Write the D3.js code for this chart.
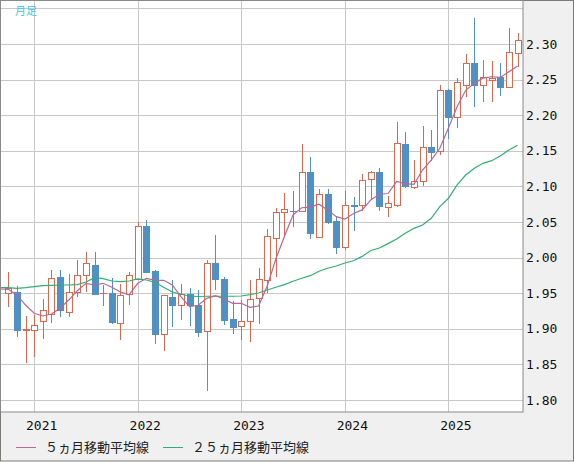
<!DOCTYPE html>
<html lang="ja">
<head>
<meta charset="utf-8">
<script src="https://d3js.org/d3.v7.min.js"></script>
<style>
  body { margin: 0; background: #fff; }
  .grid { stroke: #c8c8c8; stroke-width: 1px; shape-rendering: crispEdges; }
  .tick-label { font-family: "DejaVu Sans Mono", monospace; font-size: 13px; fill: #111; }
  .legend-label { font-family: "Noto Sans CJK JP", sans-serif; font-size: 13px; fill: #222; }
  .candle line, .candle rect { shape-rendering: crispEdges; }
</style>
</head>
<body>
<svg id="chart" width="574" height="462"></svg>
<script>
// monthly candles, Oct 2020 .. Sep 2025
const months = d3.range(60).map(i => { const m = 9 + i; return (2020 + Math.floor(m / 12)) + "-" + String(m % 12 + 1).padStart(2, "0"); });
const open  = [1.950,1.952,1.899,1.899,1.911,1.921,1.973,1.923,1.952,1.975,1.990,1.950,1.950,1.908,1.949,1.970,2.044,1.981,1.892,1.944,
               1.933,1.949,1.933,1.897,1.992,1.970,1.914,1.904,1.911,1.943,1.968,2.027,2.064,2.066,2.066,2.120,2.029,2.090,2.051,2.015,
               2.074,2.074,2.110,2.120,2.071,2.074,2.160,2.099,2.108,2.156,2.150,2.236,2.197,2.243,2.274,2.243,2.250,2.254,2.239,2.287];
const high  = [1.980,1.960,1.918,1.920,1.942,1.983,1.982,1.977,1.997,2.008,2.008,1.962,1.971,1.963,1.980,2.050,2.053,1.983,1.948,1.969,
               1.963,1.958,1.954,1.996,2.032,1.973,1.939,1.940,1.968,1.985,2.040,2.070,2.091,2.093,2.160,2.141,2.096,2.096,2.059,2.094,
               2.085,2.117,2.122,2.126,2.086,2.190,2.176,2.137,2.185,2.179,2.242,2.237,2.252,2.286,2.337,2.278,2.276,2.274,2.322,2.315];
const low   = [1.931,1.889,1.852,1.861,1.885,1.908,1.916,1.916,1.945,1.951,1.947,1.932,1.907,1.884,1.934,1.969,1.978,1.878,1.869,1.903,
               1.913,1.904,1.888,1.812,1.954,1.906,1.892,1.884,1.882,1.907,1.950,1.973,2.031,2.043,2.064,2.026,2.028,2.047,2.005,2.010,
               2.037,2.065,2.081,2.066,2.057,2.071,2.098,2.097,2.101,2.136,2.144,2.166,2.182,2.226,2.212,2.218,2.219,2.227,2.238,2.268];
const close = [1.958,1.899,1.900,1.906,1.926,1.972,1.927,1.951,1.975,1.993,1.949,1.9505,1.909,1.948,1.975,2.044,1.980,1.892,1.947,1.933,
               1.949,1.934,1.896,1.992,1.970,1.913,1.903,1.911,1.942,1.970,2.031,2.064,2.068,2.065,2.120,2.034,2.090,2.050,2.015,2.074,
               2.073,2.109,2.120,2.073,2.076,2.161,2.100,2.108,2.156,2.149,2.236,2.198,2.247,2.274,2.242,2.254,2.252,2.240,2.289,2.305];
// moving averages start one month earlier (Sep 2020), left of the first candle
const ma5   = [1.956,1.9555,1.9475,1.9334,1.9218,1.918,1.9208,1.9288,1.9404,1.9535,1.9639,1.9615,1.9639,1.9583,1.9517,1.9479,1.9639,1.9709,1.9685,1.9681,1.9615,
               1.9451,1.931,1.933,1.9428,1.9465,1.9419,1.9358,1.9358,1.9302,1.932,1.960,1.998,2.030,2.060,2.070,2.071,2.075,2.067,2.0575,2.054,
               2.062,2.067,2.081,2.089,2.090,2.107,2.104,2.103,2.123,2.137,2.1535,2.182,2.212,2.235,2.245,2.252,2.254,2.253,2.261,2.269];
const ma25  = [1.958,1.9578,1.9569,1.9578,1.9592,1.9606,1.9611,1.9615,1.9615,1.962,1.9657,1.9718,1.9704,1.9671,1.9662,1.9671,1.970,1.9685,1.9653,1.9583,1.9517,
               1.9485,1.9461,1.9454,1.9457,1.9457,1.9457,1.9457,1.9461,1.9479,1.9503,1.9545,1.9583,1.962,1.9668,1.971,1.9746,1.9808,1.985,1.9882,1.9924,
               1.9956,2.0017,2.010,2.0135,2.0196,2.0261,2.0341,2.0411,2.0458,2.0552,2.0715,2.0833,2.102,2.116,2.1254,2.1324,2.1361,2.1427,2.1511,2.1577];
const yTicks = [1.80,1.85,1.90,1.95,2.00,2.05,2.10,2.15,2.20,2.25,2.30];
const yearLabels = ["2021","2022","2023","2024","2025"];
const legendNames = ["５ヵ月移動平均線", "２５ヵ月移動平均線"];

const upColor = "#dc674b", downColor = "#5190c2";
const ma5Color = "#b8679a", ma25Color = "#2eb074";

const svg = d3.select("#chart");
const plot = { left: 1, top: 1, right: 523, bottom: 412 };

const x = d3.scaleLinear().domain([0, 59]).range([8.3, 517.5]);
const y = d3.scaleLinear().domain([1.80, 2.30]).range([400, 44]);

const candles = months.map((m, i) => ({ month: m, i: i, o: open[i], h: high[i], l: low[i], c: close[i] }));

// frame
svg.append("rect").attr("x", 0.5).attr("y", 0.5).attr("width", 573).attr("height", 460.5)
   .attr("fill", "#f0f0f0").attr("stroke", "#7a7a76");
svg.append("rect").attr("x", plot.left).attr("y", plot.top)
   .attr("width", plot.right - plot.left).attr("height", plot.bottom - plot.top)
   .attr("fill", "#fff");

svg.append("clipPath").attr("id", "clip").append("rect")
   .attr("x", plot.left).attr("y", plot.top)
   .attr("width", plot.right - plot.left).attr("height", plot.bottom - plot.top);
const g = svg.append("g").attr("clip-path", "url(#clip)");

// grid
const gridVals = yTicks.concat([2.35]);
g.selectAll("line.h").data(gridVals).join("line")
 .attr("class", "grid")
 .attr("x1", plot.left).attr("x2", plot.right)
 .attr("y1", d => Math.round(y(d)) + 0.5).attr("y2", d => Math.round(y(d)) + 0.5);

const janIdx = candles.filter(d => d.month.endsWith("-01")).map(d => d.i);
g.selectAll("line.v").data(janIdx).join("line")
 .attr("class", "grid")
 .attr("y1", plot.top).attr("y2", plot.bottom)
 .attr("x1", d => Math.round(x(d)) + 0.5).attr("x2", d => Math.round(x(d)) + 0.5);

// candles
const cg = g.selectAll("g.candle").data(candles).join("g").attr("class", "candle");
cg.append("line")
  .attr("x1", d => Math.round(x(d.i)) + 0.5).attr("x2", d => Math.round(x(d.i)) + 0.5)
  .attr("y1", d => y(d.h)).attr("y2", d => y(d.l))
  .attr("stroke", d => d.c >= d.o ? upColor : downColor)
  .attr("stroke-width", 1);
cg.append("rect")
  .attr("x", d => Math.round(x(d.i)) - 2.5)
  .attr("width", 6)
  .attr("y", d => Math.round(y(Math.max(d.o, d.c))) + 0.5)
  .attr("height", d => Math.max(0.01, Math.round(y(Math.min(d.o, d.c))) - Math.round(y(Math.max(d.o, d.c)))))
  .attr("fill", d => d.c >= d.o ? "#fff" : downColor)
  .attr("stroke", d => d.c >= d.o ? upColor : downColor)
  .attr("stroke-width", 1);

// moving averages
const line = d3.line().x((d, i) => x(i - 1)).y(d => y(d));
g.append("path").datum(ma25).attr("d", line)
 .attr("fill", "none").attr("stroke", ma25Color).attr("stroke-width", 1.2);
g.append("path").datum(ma5).attr("d", line)
 .attr("fill", "none").attr("stroke", ma5Color).attr("stroke-width", 1.2);

// plot border
svg.append("rect").attr("x", plot.left - 0.5).attr("y", plot.top - 0.5)
   .attr("width", plot.right - plot.left + 0.5).attr("height", plot.bottom - plot.top + 0.5)
   .attr("fill", "none").attr("stroke", "#8a8a8a");

// right axis labels
svg.selectAll("text.ytick").data(yTicks).join("text")
   .attr("class", "tick-label")
   .attr("x", 526).attr("y", d => y(d) + 4.5)
   .text(d => d.toFixed(2));

// year labels
svg.selectAll("text.year").data(janIdx).join("text")
   .attr("class", "tick-label")
   .attr("text-anchor", "middle")
   .attr("x", (d, k) => x(d) + 7.5).attr("y", 430)
   .text((d, k) => yearLabels[k]);

// title tag
svg.append("text").attr("x", 15).attr("y", 15)
   .attr("font-family", "Noto Sans CJK JP, sans-serif").attr("font-size", 11)
   .attr("fill", "#45c3ef").text("月足");

// legend
const legend = [{ name: legendNames[0], color: ma5Color, x: 16 }, { name: legendNames[1], color: ma25Color, x: 163 }];
const lg = svg.selectAll("g.legend").data(legend).join("g").attr("class", "legend");
lg.append("line").attr("x1", d => d.x).attr("x2", d => d.x + 20)
  .attr("y1", 447.5).attr("y2", 447.5).attr("stroke", d => d.color);
lg.append("text").attr("class", "legend-label")
  .attr("x", d => d.x + 29).attr("y", 452)
  .text(d => d.name);
</script>
</body>
</html>
